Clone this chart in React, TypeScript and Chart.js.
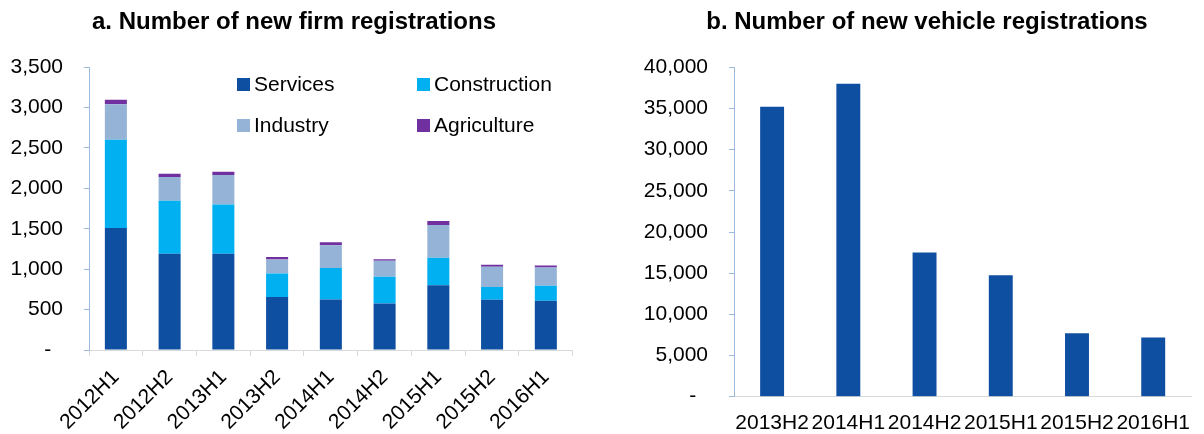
import React, { useEffect, useRef } from 'react';
import { Chart, registerables } from 'chart.js';

Chart.register(...registerables);

const FONT = '"Liberation Sans", Arial, Helvetica, sans-serif';

// ---- Panel a: new firm registrations ----
const firmPeriods = ['2012H1', '2012H2', '2013H1', '2013H2', '2014H1', '2014H2', '2015H1', '2015H2', '2016H1'];
const services = [1510, 1190, 1190, 655, 625, 575, 800, 620, 610];
const construction = [1090, 655, 610, 290, 390, 330, 340, 160, 185];
const industry = [440, 295, 365, 175, 280, 200, 405, 250, 225];
const agriculture = [55, 40, 40, 30, 37, 17, 50, 25, 25];

// ---- Panel b: new vehicle registrations ----
const vehiclePeriods = ['2013H2', '2014H1', '2014H2', '2015H1', '2015H2', '2016H1'];
const vehicles = [35200, 38000, 17500, 14750, 7700, 7200];

const COLORS = {
  services: '#0E4FA1',
  construction: '#00B0F0',
  industry: '#95B3D7',
  agriculture: '#7030A0',
  yAxis: '#9DB9DD',
  xAxis: '#D9D9D9',
};

const fmt = (v: number) => (v === 0 ? '-  ' : Math.round(v).toLocaleString('en-US'));

const titlePlugin = {
  id: 'fixedTitle',
  afterDraw(chart: any, _args: any, opts: any) {
    const ctx = chart.ctx;
    ctx.save();
    ctx.font = `bold ${opts.size}px ${FONT}`;
    ctx.fillStyle = '#000';
    ctx.textAlign = 'center';
    ctx.textBaseline = 'middle';
    ctx.fillText(opts.text, opts.x, opts.y);
    ctx.restore();
  },
};

const gridLegendPlugin = {
  id: 'gridLegend',
  afterDraw(chart: any, _args: any, opts: any) {
    if (!opts || !opts.items) return;
    const ctx = chart.ctx;
    ctx.save();
    ctx.font = `${opts.size}px ${FONT}`;
    ctx.textBaseline = 'middle';
    ctx.textAlign = 'left';
    opts.items.forEach((it: any, i: number) => {
      const ds = chart.data.datasets[i];
      const x = opts.cols[it.col];
      const y = opts.rows[it.row];
      ctx.fillStyle = ds.backgroundColor;
      ctx.fillRect(x, y - opts.box / 2, opts.box, opts.box);
      ctx.fillStyle = '#000';
      ctx.fillText(ds.label, x + opts.box + 4, y + 1);
    });
    ctx.restore();
  },
};

function FirmChart() {
  const ref = useRef<HTMLCanvasElement>(null);
  useEffect(() => {
    const chart = new Chart(ref.current as HTMLCanvasElement, {
      type: 'bar',
      data: {
        labels: firmPeriods,
        datasets: [
          { label: 'Services', data: services, backgroundColor: COLORS.services },
          { label: 'Construction', data: construction, backgroundColor: COLORS.construction },
          { label: 'Industry', data: industry, backgroundColor: COLORS.industry },
          { label: 'Agriculture', data: agriculture, backgroundColor: COLORS.agriculture },
        ],
      },
      plugins: [titlePlugin, gridLegendPlugin],
      options: {
        responsive: false,
        animation: false,
        layout: { padding: { top: 67, left: 0, right: 27.3, bottom: 0 } },
        datasets: { bar: { categoryPercentage: 1, barPercentage: 0.41, borderWidth: 0 } },
        plugins: {
          legend: { display: false },
          tooltip: { enabled: false },
          title: { display: false },
          fixedTitle: { text: 'a. Number of new firm registrations', x: 294, y: 22, size: 24 },
          gridLegend: {
            size: 21,
            box: 13,
            cols: [237, 417],
            rows: [84.5, 125.5],
            items: [
              { col: 0, row: 0 },
              { col: 1, row: 0 },
              { col: 0, row: 1 },
              { col: 1, row: 1 },
            ],
          },
        } as any,
        scales: {
          x: {
            stacked: true,
            grid: { display: true, drawOnChartArea: false, drawTicks: true, tickLength: 6, color: COLORS.xAxis, offset: true },
            border: { display: true, color: COLORS.xAxis },
            ticks: {
              color: '#000',
              font: { family: FONT, size: 21 },
              minRotation: 45,
              maxRotation: 45,
              autoSkip: false,
              padding: 9,
            },
            afterFit: (s: any) => { s.height = 84; },
          },
          y: {
            stacked: true,
            min: 0,
            max: 3500,
            grid: { display: true, drawOnChartArea: false, drawTicks: true, tickLength: 5, color: COLORS.yAxis },
            border: { display: true, color: COLORS.yAxis },
            ticks: {
              stepSize: 500,
              color: '#000',
              font: { family: FONT, size: 21 },
              padding: 21,
              callback: (v: any) => fmt(Number(v)),
            },
            afterFit: (s: any) => { s.width = 89; },
          },
        },
      },
    });
    return () => chart.destroy();
  }, []);
  return <canvas ref={ref} width={600} height={434} style={{ display: 'block' }} />;
}

function VehicleChart() {
  const ref = useRef<HTMLCanvasElement>(null);
  useEffect(() => {
    const chart = new Chart(ref.current as HTMLCanvasElement, {
      type: 'bar',
      data: {
        labels: vehiclePeriods,
        datasets: [{ label: 'Vehicles', data: vehicles, backgroundColor: COLORS.services }],
      },
      plugins: [titlePlugin],
      options: {
        responsive: false,
        animation: false,
        layout: { padding: { top: 67.3, left: 0, right: 0, bottom: 0 } },
        datasets: { bar: { categoryPercentage: 1, barPercentage: 0.314, borderWidth: 0 } },
        plugins: {
          legend: { display: false },
          tooltip: { enabled: false },
          title: { display: false },
          fixedTitle: { text: 'b. Number of new vehicle registrations', x: 327, y: 22, size: 24 },
        } as any,
        scales: {
          x: {
            grid: { display: false, drawTicks: false },
            border: { display: true, color: COLORS.xAxis },
            ticks: {
              color: '#000',
              font: { family: FONT, size: 21 },
              maxRotation: 0,
              minRotation: 0,
              autoSkip: false,
              padding: 14,
            },
            afterFit: (s: any) => { s.height = 37.3; },
          },
          y: {
            min: 0,
            max: 40000,
            grid: { display: true, drawOnChartArea: false, drawTicks: true, tickLength: 5, color: COLORS.yAxis },
            border: { display: true, color: COLORS.yAxis },
            ticks: {
              stepSize: 5000,
              color: '#000',
              font: { family: FONT, size: 21 },
              padding: 21,
              callback: (v: any) => fmt(Number(v)),
            },
            afterFit: (s: any) => { s.width = 134; },
          },
        },
      },
    });
    return () => chart.destroy();
  }, []);
  return <canvas ref={ref} width={604} height={434} style={{ display: 'block' }} />;
}

export default function App() {
  return (
    <div
      style={{
        position: 'fixed',
        left: 0,
        top: 0,
        width: 1204,
        height: 434,
        display: 'flex',
        background: '#fff',
        overflow: 'hidden',
      }}
    >
      <FirmChart />
      <VehicleChart />
    </div>
  );
}
